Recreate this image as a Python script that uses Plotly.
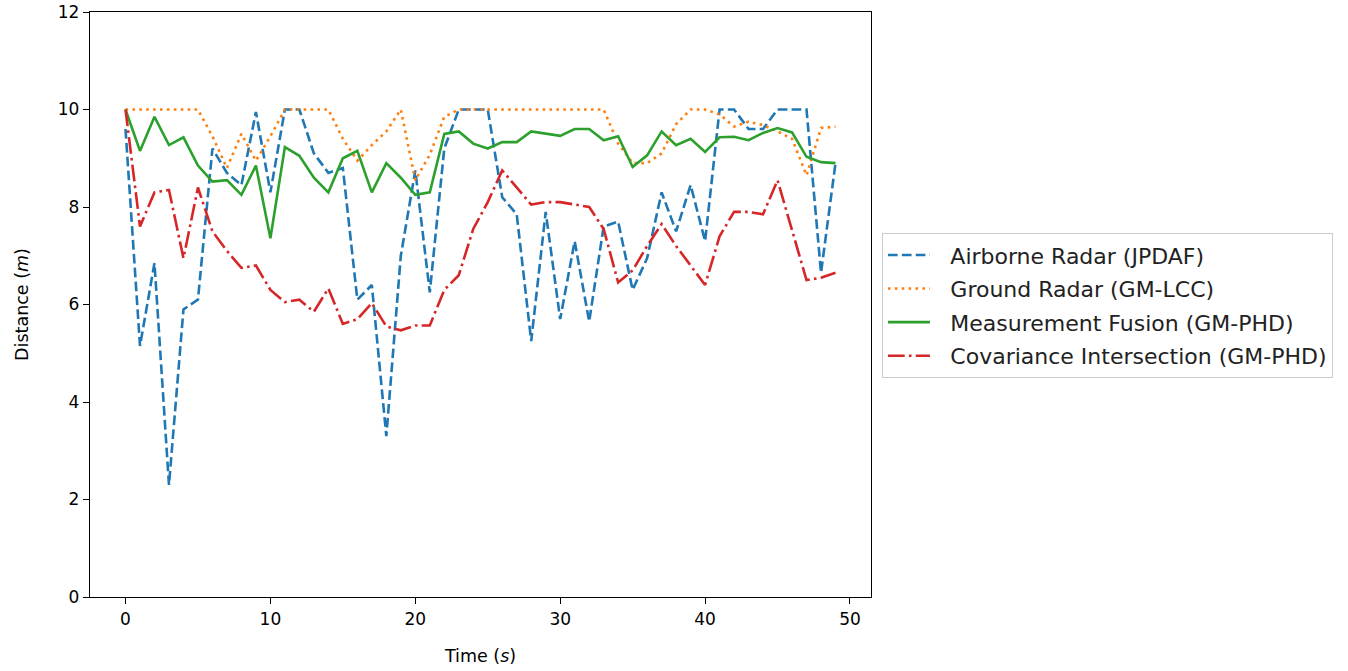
import plotly.graph_objects as go

# Time steps (s)
time_s = list(range(50))

# Tracking distance per method (m)
airborne_jpdaf = [9.6, 5.15, 6.85, 2.3, 5.9, 6.1, 9.2, 8.7, 8.45, 9.95,
                  8.3, 10.0, 10.0, 9.1, 8.7, 8.8, 6.1, 6.4, 3.3, 7.0,
                  8.75, 6.25, 9.2, 10.0, 10.0, 10.0, 8.2, 7.85, 5.25, 7.9,
                  5.7, 7.3, 5.65, 7.6, 7.7, 6.3, 6.95, 8.3, 7.5, 8.45,
                  7.3, 10.0, 10.0, 9.6, 9.6, 10.0, 10.0, 10.0, 6.65, 8.9]

ground_gmlcc = [10.0, 10.0, 10.0, 10.0, 10.0, 10.0, 9.45, 8.8, 9.5, 8.95,
                9.45, 10.0, 10.0, 10.0, 10.0, 9.4, 8.95, 9.27, 9.55, 10.0,
                8.55, 9.07, 9.85, 10.0, 10.0, 10.0, 10.0, 10.0, 10.0, 10.0,
                10.0, 10.0, 10.0, 10.0, 9.3, 8.9, 8.9, 9.1, 9.7, 10.0,
                10.0, 9.9, 9.65, 9.75, 9.68, 9.55, 9.4, 8.65, 9.62, 9.65]

meas_fusion_gmphd = [10.0, 9.15, 9.85, 9.27, 9.43, 8.85, 8.52, 8.55, 8.25, 8.85,
                     7.36, 9.23, 9.05, 8.6, 8.3, 9.0, 9.15, 8.3, 8.9, 8.6,
                     8.25, 8.3, 9.5, 9.55, 9.3, 9.2, 9.33, 9.33, 9.55, 9.5,
                     9.46, 9.6, 9.6, 9.37, 9.45, 8.82, 9.06, 9.55, 9.27, 9.4,
                     9.13, 9.43, 9.44, 9.37, 9.52, 9.62, 9.53, 9.03, 8.92, 8.9]

cov_intersect_gmphd = [10.0, 7.6, 8.3, 8.35, 6.95, 8.4, 7.5, 7.1, 6.75, 6.8,
                       6.3, 6.05, 6.1, 5.85, 6.33, 5.6, 5.7, 6.03, 5.55, 5.47,
                       5.57, 5.57, 6.3, 6.6, 7.55, 8.1, 8.75, 8.4, 8.05, 8.1,
                       8.1, 8.05, 8.0, 7.55, 6.45, 6.7, 7.2, 7.65, 7.2, 6.8,
                       6.4, 7.4, 7.9, 7.9, 7.85, 8.55, 7.55, 6.5, 6.55, 6.65]

series_names = ["Airborne Radar (JPDAF)", "Ground Radar (GM-LCC)",
                "Measurement Fusion (GM-PHD)", "Covariance Intersection (GM-PHD)"]
series_values = [airborne_jpdaf, ground_gmlcc, meas_fusion_gmphd, cov_intersect_gmphd]
series_colors = ["#1f77b4", "#ff7f0e", "#2ca02c", "#d62728"]
series_dashes = ["9.7px,4.2px", "2.6px,4.3px", "solid", "16.8px,4.2px,2.6px,4.2px"]

x_ticks = [0, 10, 20, 30, 40, 50]
y_ticks = [0, 2, 4, 6, 8, 10, 12]

FONT = "DejaVu Sans, Liberation Sans, sans-serif"
LEGEND_PAD = "\u2002\u2009"  # extra gap between legend swatch and label

fig = go.Figure()
for i, (name, vals, col, dash) in enumerate(
        zip(series_names, series_values, series_colors, series_dashes)):
    fig.add_trace(go.Scatter(
        x=time_s, y=vals, mode="lines", name=LEGEND_PAD + name,
        legendgroup=f"g{i}",
        line=dict(color=col, width=2.6, dash=dash),
    ))

axis_common = dict(
    showline=True, linecolor="black", linewidth=1.3, mirror=True,
    ticks="outside", ticklen=6, tickwidth=1.3, tickcolor="black",
    showgrid=False, zeroline=False, automargin=False,
    tickfont=dict(family=FONT, size=17, color="black"),
)

fig.update_layout(
    width=1348, height=671,
    margin=dict(l=90, r=477, t=12, b=74),
    paper_bgcolor="white", plot_bgcolor="white",
    font=dict(family=FONT, color="black"),
    xaxis=dict(range=[-2.45, 51.45], tickvals=x_ticks,
               title=dict(text="Time (<i>s</i>)", font=dict(size=17.5), standoff=22),
               **axis_common),
    yaxis=dict(range=[0, 12], tickvals=y_ticks,
               title=dict(text="Distance (<i>m</i>)", font=dict(size=17.5), standoff=24),
               **axis_common),
    legend=dict(
        x=1.014, xanchor="left", y=0.498, yanchor="middle",
        bgcolor="rgba(255,255,255,0.8)", bordercolor="#cccccc", borderwidth=1,
        font=dict(family=FONT, size=22, color="#222222"),
        itemwidth=42,
        tracegroupgap=2,
    ),
    showlegend=True,
)

fig.write_html("out.html")
